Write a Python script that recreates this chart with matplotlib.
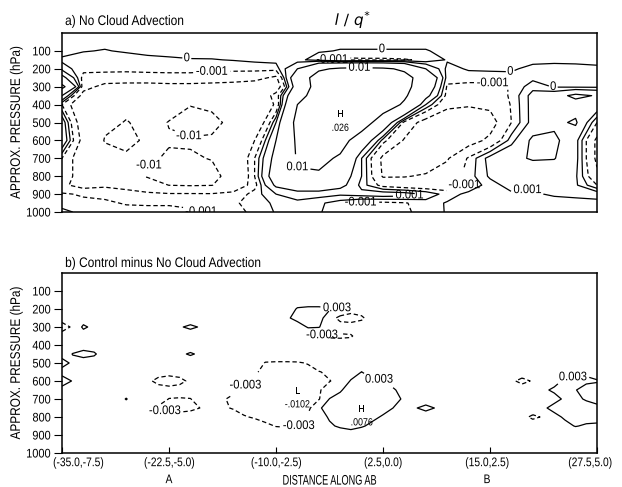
import numpy as np
import matplotlib
matplotlib.use("Agg")
import matplotlib.pyplot as plt
from matplotlib import font_manager
from matplotlib.patheffects import AbstractPathEffect
from matplotlib.transforms import Affine2D, ScaledTranslation

# ---------- fonts ----------
_names = {f.name for f in font_manager.fontManager.ttflist}
FONT = "Liberation Sans Narrow" if "Liberation Sans Narrow" in _names else "Liberation Sans"
plt.rcParams["font.family"] = [FONT, "DejaVu Sans"]
plt.rcParams["lines.dashed_pattern"] = [3.5, 2.2]
plt.rcParams["axes.linewidth"] = 1.1


class Narrow(AbstractPathEffect):
    """Squeeze glyphs horizontally (condensed lettering)."""

    def __init__(self, sx=0.85, anchor=0.5):
        super().__init__()
        self.sx, self.anchor = sx, anchor

    def draw_path(self, renderer, gc, tpath, affine, rgbFace=None):
        ext = tpath.get_extents()
        x0 = ext.x0 + self.anchor * ext.width
        squeeze = Affine2D().translate(-x0, 0).scale(self.sx, 1).translate(x0, 0)
        renderer.draw_path(gc, tpath, squeeze + affine, rgbFace)


# ---------- a) l/q* without cloud advection (units of 1e-3) ----------
dist_a = np.linspace(0, 5, 26)
pres_a = [0, 100, 150, 200, 250, 300, 350, 400, 500, 600, 700, 800, 850, 900, 950, 1000]

a_p0 = [0.5, 0.5, 0.5, 0.5, 0.5, 0.5, 0.5, 0.5, 0.5, 0.5, 0.5, 0.5, 0.5,
        0.5, 0.5, 0.5, 0.5, 0.5, 0.5, 0.5, 0.5, 0.5, 0.5, 0.5, 0.5, 0.5]
a_p100 = [0.4, 0.05, -0.05, 0.1, 0.2, 0.2, 0.3, 0.4, 0.5, 0.6, 0.6, 0.4, 0.1,
          -0.05, -0.05, -0.05, -0.05, -0.05, 0.2, 0.3, 0.3, 0.3, 0.3, 0.3, 0.3, 0.3]
a_p150 = [-0.2, -0.4, -0.5, -0.4, -0.2, -0.1, -0.05, -0.05, 0.05, 0.2, 0.3, 0.3, -0.5,
          -1.3, -1.2, -1.2, -1.1, -0.8, 0.1, 0.2, 0.2, 0.2, 0.2, 0.2, 0.25, 0.3]
a_p200 = [0.5, -0.6, -0.7, -0.7, -0.6, -0.6, -0.6, -0.7, -0.7, -0.6, -0.5, 3, 9,
          11, 11.5, 11, 9, 3, -0.3, 0.1, 0.15, 0.1, -0.2, -0.3, -0.3, -0.2]
a_p250 = [4, -1.5, -1.5, -1.6, -1.6, -1.5, -1.5, -1.6, -1.8, -2.2, -3.5, 6, 13,
          15, 15, 15, 12, 7, -0.5, -0.4, -0.4, -0.2, -0.3, -0.4, -0.3, -0.3]
a_p300 = [12, -2, -3.8, -4, -4, -3.8, -3.8, -4, -4.2, -4.5, -5, 5, 13,
          16, 17, 16, 12, 6, -1.2, -1.5, -1.5, -0.9, 0.6, -0.1, -0.2, -0.2]
a_p350 = [3, -4, -6, -7, -7.5, -8, -8, -8, -7.5, -6, -2, 7, 14,
          17, 18, 16, 11, 4, -1.5, -2.5, -2, -0.8, 1.5, 2, 3.6, 2.8]
a_p400 = [-1, -6, -8.5, -9, -9, -9, -9.8, -9.3, -8.5, -7, -2.5, 10, 16,
          19, 18, 14, 9, 1, -2.5, -2.8, -2.5, -0.9, 1.5, 1.5, 2, 2.3]
a_p500 = [2, -5, -9, -10.2, -9, -10.1, -12, -11, -9, -6, 1, 12, 16,
          26, 14, 6, -1.5, -4, -4.5, -4.5, -4, -1, 1.5, 2.5, 3.3, -1]
a_p600 = [2.5, -4, -10.3, -10.8, -9.5, -9.8, -9.5, -9.5, -8, -3, 3, 11, 15,
          13, 6, -0.5, -3.2, -4.5, -4.5, -4, -2.5, 0.5, 3.5, 3.5, 1.5, -3.5]
a_p700 = [-1, -5, -8, -9.5, -9.6, -10.3, -10.5, -9.8, -7, -1, 4, 10.5, 12,
          9, 1, -3.5, -4.5, -4.2, -3.2, -0.8, 1.5, 2.5, 3.2, 3.1, 1.5, -3.5]
a_p800 = [-2, -4, -6, -8, -10.5, -11.5, -12, -11.5, -8, -1, 5, 9.5, 9,
          5, 1, -3.2, -3.1, -2.8, -2, -0.5, 1.2, 2, 1.5, 1.5, 1.2, -2.5]
a_p850 = [-2.5, -4, -3.5, -4.5, -7, -10.1, -10.5, -10.2, -6, -1.5, 3.5, 5, 6,
          4, 0.5, -1.5, -2, -2.2, -1.8, -0.8, 0.5, 1.5, 1.2, 1.5, 1.2, -1]
a_p900 = [-0.8, -1.2, -1.3, -1.5, -2, -2.5, -2.5, -2.6, -2, -0.5, 1, 2, 1.5,
          1.2, 1.5, 1.8, 1.6, 0.8, -0.5, 0.3, 0.7, 0.8, 0.8, 1.2, 1.5, 1.8]
a_p950 = [-0.3, -0.6, -0.8, -1.1, -1.2, -1.2, -1.3, -1.5, -1.2, -0.5, 0.2, 0.5, 0.2,
          -0.5, -1.2, -1.3, -1.1, -0.5, 0.1, 0.3, 0.4, 0.3, 0.5, 0.4, 0.3, 0.4]
a_p1000 = [0.2, -0.2, -0.4, -0.6, -0.5, -0.5, -0.8, -1.2, -1.3, -0.8, 0.1, 0.3, 0.1,
           -0.6, -1.3, -1.5, -1.2, -0.6, 0.1, 0.2, 0.3, 0.2, 0.3, 0.2, 0.2, 0.3]

levels_a = [-0.01, -0.003, -0.001, 0.0, 0.001, 0.003, 0.01]

# ---------- b) control minus no cloud advection: (dist, p, value*1e3) ----------
dist_b = np.linspace(0, 5, 51)
pres_b = np.linspace(0, 1000, 21)

west_edge = [(0.0, 300, -6), (0.1, 300, -2), (0.2, 300, 4), (0.3, 300, 1.5),
             (0.1, 450, 3.2), (0.2, 450, 5), (0.3, 450, 3.8),
             (0.0, 500, 6), (0.1, 500, 1.5), (0.0, 600, 7), (0.1, 600, 2.5),
             (0.6, 700, 3.3)]
near_a = [(1.1, 300, 2.5), (1.2, 300, 4), (1.3, 300, 2.5),
          (1.1, 450, 2), (1.2, 450, 3.6), (1.3, 450, 2),
          (0.8, 600, -1.5), (0.9, 600, -5), (1.0, 600, -7), (1.1, 600, -5), (1.2, 600, -1.5),
          (1.0, 700, -3.2), (1.1, 700, -3.5), (1.2, 700, -3.2),
          (0.8, 750, -1.5), (0.9, 750, -4), (1.0, 750, -5), (1.1, 750, -5.5),
          (1.2, 750, -4.5), (1.3, 750, -2.8)]
low_center = [(1.9, 500, -3.3), (2.0, 500, -3.5), (2.1, 500, -3.5), (2.2, 500, -3.4), (2.3, 500, -2.8),
              (1.8, 550, -2.5), (1.9, 550, -4), (2.0, 550, -5), (2.1, 550, -5.5), (2.2, 550, -5),
              (2.3, 550, -4), (2.4, 550, -3.3), (2.5, 550, -2),
              (1.7, 600, -2), (1.8, 600, -3.5), (1.9, 600, -5), (2.0, 600, -6.5), (2.1, 600, -7.5),
              (2.2, 600, -7), (2.3, 600, -5), (2.4, 600, -4), (2.5, 600, -3.2), (2.6, 600, -1.5),
              (1.6, 650, -2), (1.7, 650, -3.6), (1.8, 650, -5), (1.9, 650, -6.5), (2.0, 650, -8),
              (2.1, 650, -9.5), (2.2, 650, -9), (2.3, 650, -6), (2.4, 650, -3.5), (2.5, 650, -1),
              (1.5, 700, -2.5), (1.6, 700, -4), (1.7, 700, -5), (1.8, 700, -6), (1.9, 700, -7.5),
              (2.0, 700, -9), (2.1, 700, -10), (2.2, 700, -10.2), (2.3, 700, -6.5), (2.4, 700, -3.5),
              (1.5, 750, -2), (1.6, 750, -3.5), (1.7, 750, -5), (1.8, 750, -6), (1.9, 750, -7),
              (2.0, 750, -8), (2.1, 750, -8), (2.2, 750, -7), (2.3, 750, -4.5),
              (1.7, 800, -2.5), (1.8, 800, -3.6), (1.9, 800, -4.5), (2.0, 800, -5.5),
              (2.1, 800, -6), (2.2, 800, -5), (2.3, 800, -2),
              (1.9, 850, -2), (2.0, 850, -3.2), (2.1, 850, -3.5), (2.2, 850, -3.2), (2.3, 850, -1.5)]
upper_pair = [(2.2, 200, 3.5), (2.3, 200, 4), (2.4, 200, 4), (2.5, 200, 3.5), (2.6, 200, 3.2),
              (2.1, 250, 2), (2.2, 250, 5), (2.3, 250, 6), (2.4, 250, 5),
              (2.6, 250, -5), (2.7, 250, -6), (2.8, 250, -4),
              (2.3, 300, 3.5), (2.4, 300, 3.3),
              (2.3, 350, -2), (2.4, 350, -3.2), (2.5, 350, -3.8), (2.6, 350, -4), (2.7, 350, -3.6)]
high_center = [(2.8, 550, 3.1),
               (2.7, 600, 3.5), (2.8, 600, 4.5), (2.9, 600, 4), (3.0, 600, 3.3), (3.1, 600, 1),
               (2.6, 650, 2.5), (2.7, 650, 5), (2.8, 650, 5.5), (2.9, 650, 5.5), (3.0, 650, 4.5),
               (3.1, 650, 3.5), (3.2, 650, 1),
               (2.5, 700, 3.2), (2.6, 700, 4.5), (2.7, 700, 6), (2.8, 700, 6.5), (2.9, 700, 6.5),
               (3.0, 700, 5), (3.1, 700, 4), (3.2, 700, 2.5),
               (2.4, 750, 2.5), (2.5, 750, 4.5), (2.6, 750, 5.5), (2.7, 750, 7), (2.8, 750, 6.8),
               (2.9, 750, 6), (3.0, 750, 4.5), (3.1, 750, 2.9), (3.2, 750, 1.5),
               (2.4, 800, 1.5), (2.5, 800, 3.4), (2.6, 800, 5), (2.7, 800, 6.5), (2.8, 800, 7.6),
               (2.9, 800, 4), (3.0, 800, 2.5),
               (2.5, 850, 2.5), (2.6, 850, 3.5), (2.7, 850, 4), (2.8, 850, 3.5), (2.9, 850, 2),
               (2.6, 900, 1), (2.7, 900, 1.5)]
east_side = [(3.3, 750, 2.5), (3.4, 750, 5), (3.5, 750, 2.5), (3.4, 700, -1), (3.4, 800, -1),
             (4.2, 600, -2), (4.3, 600, -4.5), (4.4, 600, -2.5),
             (4.3, 800, -1.5), (4.4, 800, -4), (4.5, 800, -2.5)]
east_edge = [(4.8, 550, 2), (4.9, 550, 2),
             (4.6, 600, 2), (4.7, 600, 3.5), (4.8, 600, 4), (4.9, 600, 4), (5.0, 600, 3.5),
             (4.5, 650, 2.5), (4.6, 650, 3.5), (4.7, 650, 4), (4.8, 650, 3.2), (4.9, 650, 1), (5.0, 650, 0.5),
             (4.6, 700, 2), (4.7, 700, 3.5), (4.8, 700, 4), (4.9, 700, 2.5), (5.0, 700, 1),
             (4.5, 750, 2.5), (4.6, 750, 4), (4.7, 750, 4.5), (4.8, 750, 5), (4.9, 750, 5), (5.0, 750, 4.5),
             (4.6, 800, 2), (4.7, 800, 3.5), (4.8, 800, 4.5), (4.9, 800, 4.5), (5.0, 800, 4),
             (4.7, 850, 2), (4.8, 850, 3.2), (4.9, 850, 2.5), (5.0, 850, 2.5)]

levels_b = [-0.003, 0.003]

xtick_labels = ["(-35.0,-7.5)", "(-22.5,-5.0)\nA", "(-10.0,-2.5)",
                "(2.5,0.0)", "(15.0,2.5)\nB", "(27.5,5.0)"]

# contour label spots: (level, distance, pressure)
labels_a = [(0.0, 1.17, 115), (-0.001, 1.40, 220), (-0.01, 1.18, 584), (-0.01, 0.79, 720),
            (0.01, 2.18, 760), (-0.001, 2.45, 135), (0.01, 2.78, 205), (0.0, 2.99, 90),
            (-0.001, 4.02, 292), (0.0, 4.19, 215), (0.0, 4.59, 305), (0.001, 3.25, 915),
            (-0.001, 3.80, 855), (0.001, 4.35, 870), (-0.001, 2.79, 945), (-0.001, 1.35, 960)]
labels_b = [(0.003, 2.57, 195), (-0.003, 2.43, 350), (-0.003, 0.96, 770), (-0.003, 1.76, 660),
            (-0.003, 2.22, 860), (0.003, 2.97, 560), (0.003, 4.78, 590)]


def build_field_b():
    z = np.zeros((len(pres_b), len(dist_b)))
    for group in (west_edge, near_a, low_center, upper_pair, high_center, east_side, east_edge):
        for x, p, v in group:
            z[int(round(p / 50)), int(round(x * 10))] = v
    return z * 1e-3


def draw_contours(ax, x, p, z, levels, spots):
    # one contour set per level so each label lands on its own line
    for lv in levels:
        cs = ax.contour(x, p, z, levels=[lv], colors="k", linewidths=0.9,
                        linestyles="dashed" if lv < 0 else "solid")
        here = [(lx, lp) for l, lx, lp in spots if l == lv]
        if here:
            texts = ax.clabel(cs, manual=here, inline=True, inline_spacing=1,
                              fmt=lambda v: f"{v:g}", fontsize=9)
            for t in texts:
                t.set_rotation(0)
                t.set_path_effects([Narrow(0.9)])


def mark_extreme(ax, x, p, z, letter):
    j, i = np.unravel_index(np.argmax(z) if letter == "H" else np.argmin(z), z.shape)
    val = z[j, i]
    txt = f"{val:.4f}".rstrip("0").replace("0.", ".", 1)
    for s, dp in ((letter, -45), (txt, 30)):
        t = ax.text(x[i], p[j] + dp, s, ha="center", va="center", fontsize=7.5)
        t.set_path_effects([Narrow(0.85)])


def style_axes(ax):
    ax.set_xlim(0, 5)
    ax.set_ylim(1000, 0)
    ax.set_yticks(range(100, 1001, 100))
    ax.tick_params(axis="y", direction="out", length=6, labelsize=9, pad=2)
    for t in ax.get_yticklabels():
        t.set_path_effects([Narrow(0.88, 1.0)])
    lab = ax.set_ylabel("APPROX. PRESSURE (hPa)", fontsize=10, labelpad=0)
    lab.set_path_effects([Narrow(0.85)])


fig = plt.figure(figsize=(6.22, 4.87), dpi=100)
W, H = 622, 487
ax1 = fig.add_axes([62 / W, 1 - 212 / H, 535 / W, 179 / H])
ax2 = fig.add_axes([62 / W, 1 - 453 / H, 535 / W, 180 / H])

field_a = np.array([a_p0, a_p100, a_p150, a_p200, a_p250, a_p300, a_p350, a_p400,
                    a_p500, a_p600, a_p700, a_p800, a_p850, a_p900, a_p950, a_p1000]) * 1e-3
draw_contours(ax1, dist_a, pres_a, field_a, levels_a, labels_a)
mark_extreme(ax1, dist_a, pres_a, field_a, "H")
style_axes(ax1)
ax1.set_xticks([])

field_b = build_field_b()
draw_contours(ax2, dist_b, pres_b, field_b, levels_b, labels_b)
mark_extreme(ax2, dist_b, pres_b, field_b, "H")
mark_extreme(ax2, dist_b, pres_b, field_b, "L")
style_axes(ax2)
ax2.set_xticks(range(6))
ax2.set_xticklabels(xtick_labels, fontsize=9, linespacing=1.55)
ax2.tick_params(axis="x", direction="in", length=4, pad=3)
# end labels sit inward from their ticks
shifts = [16, 0, 0, 0, -3, -7]
for t, dx in zip(ax2.get_xticklabels(), shifts):
    t.set_path_effects([Narrow(0.82)])
    t.set_transform(t.get_transform() + ScaledTranslation(dx / 100, 0, fig.dpi_scale_trans))
xl = ax2.set_xlabel("DISTANCE ALONG AB", fontsize=10, labelpad=-9)
xl.set_path_effects([Narrow(0.66)])

for s, x, y, size, ha, sx in (("a) No Cloud Advection", 65, 25, 10, "left", 0.86),
                              (r"$l\ /\ q^{*}$", 353, 25, 11, "center", 1.0),
                              ("b) Control minus No Cloud Advection", 65, 267, 10, "left", 0.86)):
    t = fig.text(x / W, 1 - y / H, s, fontsize=size, ha=ha, va="baseline")
    t.set_path_effects([Narrow(sx, 0.0 if ha == "left" else 0.5)])

fig.savefig("out.png", dpi=100)
